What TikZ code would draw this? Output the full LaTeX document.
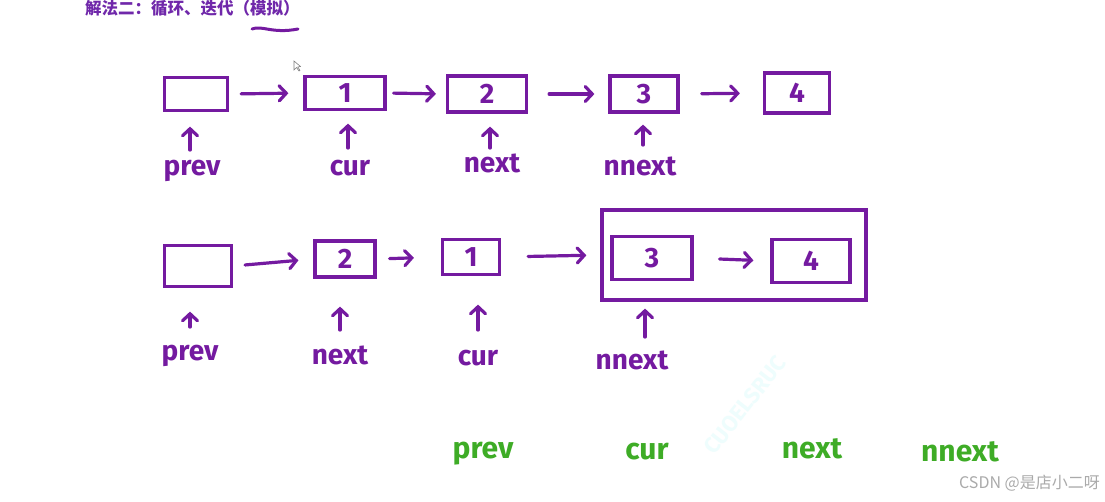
\documentclass[tikz,border=0pt]{standalone}
\usepackage{fontspec}
\setmainfont{Fira Sans}
\newfontfamily\cjk{Noto Sans CJK SC}
\usetikzlibrary{arrows.meta}
\definecolor{ink}{RGB}{116,26,160}
\definecolor{tink}{RGB}{112,40,170}
\definecolor{gink}{RGB}{62,172,38}
\definecolor{wm}{RGB}{170,170,170}
\definecolor{wmc}{RGB}{238,253,253}
\tikzset{
  boxnode/.style={draw=ink,line width=3.2pt,inner sep=0pt,text=ink,font=\bfseries\fontsize{28}{28}\selectfont},
  lab/.style={text=ink,inner sep=0pt,anchor=base,font=\bfseries\fontsize{28}{28}\selectfont},
  glab/.style={text=gink,inner sep=0pt,anchor=base,font=\bfseries\fontsize{30}{30}\selectfont},
  link/.style={draw=ink,line width=3.2pt,line cap=round,-{Straight Barb[length=7pt,width=15pt,line cap=round]}},
}
\begin{document}
\begin{tikzpicture}[x=1pt,y=-1pt]
\useasboundingbox[fill=white] (0,0) rectangle (1105,501);
% title
\node[anchor=base west,inner sep=0pt,text=tink,font=\cjk\bfseries\fontsize{16.5}{16.5}\selectfont] (title) at (85,14) {解法二：循环、迭代（模拟）};
\draw[ink,line width=3pt,line cap=round] (252,29) .. controls (262,25) and (272,34) .. (298,29);
% cursor
\draw[gray,fill=white,line width=0.6pt] (294,61) -- (294,70) -- (296.5,67.5) -- (299,71) -- (300,70.3) -- (297.8,67) -- (300.5,66.5) -- cycle;
% watermark
\node[rotate=52,text=wmc,font=\bfseries\fontsize{22}{22}\selectfont] (wmark) at (745,405) {CUOELSRUC};
\node[anchor=base east,inner sep=0pt,text=wm,font=\cjk\fontsize{16}{16}\selectfont] (csdn) at (1100,488) {CSDN @是店小二呀};

% row 1
\node[boxnode,minimum width=63pt,minimum height=33pt] (b0) at (196,94) {};
\node[boxnode,minimum width=80pt,minimum height=33pt] (b1) at (345,93) {1};
\node[boxnode,minimum width=79pt,minimum height=36pt] (b2) at (487,94) {2};
\node[boxnode,minimum width=68pt,minimum height=36pt] (b3) at (644,94) {3};
\node[boxnode,minimum width=65pt,minimum height=40pt] (b4) at (797,93) {4};
\draw[link,shorten <=12pt,shorten >=15pt] (b0.east) -- (b1.west);
\draw[link,shorten <=7pt,shorten >=10pt] (b1.east) -- (b2.west);
\draw[link,shorten <=21pt,shorten >=14pt] (b2.east) -- (b3.west);
\draw[link,shorten <=22pt,shorten >=23pt] (b3.east) -- (b4.west);
\coordinate (p0) at (190,150);
\coordinate (p1) at (348,148);
\coordinate (p2) at (490,148);
\coordinate (p3) at (643,145);
\draw[link,shorten >=14.5pt] (p0) -- (p0 |- b0.south);
\draw[link,shorten >=12.5pt] (p1) -- (p1 |- b1.south);
\draw[link,shorten >=13pt] (p2) -- (p2 |- b2.south);
\draw[link,shorten >=11pt] (p3) -- (p3 |- b3.south);
\node[lab] (l0) at (192,175) {prev};
\node[lab] (l1) at (350,175) {cur};
\node[lab] (l2) at (492,172) {next};
\node[lab] (l3) at (640,175) {nnext};

% row 2
\node[boxnode,minimum width=67pt,minimum height=41pt] (c0) at (198,266) {};
\node[boxnode,minimum width=60pt,minimum height=36pt] (c2) at (345,259) {2};
\node[boxnode,minimum width=57pt,minimum height=35pt] (c1) at (471,257) {1};
\node[boxnode,minimum width=264pt,minimum height=90pt] (big) at (734,255) {};
\node[boxnode,minimum width=80pt,minimum height=43pt] (c3) at (652,258) {3};
\node[boxnode,minimum width=78pt,minimum height=43pt] (c4) at (811,261) {4};
\draw[link,shorten <=12pt,shorten >=15pt] (c0.east) -- (c2.west);
\draw[link,shorten <=13pt,shorten >=27pt] (c2.east) -- (c1.west);
\draw[link,shorten <=27pt,shorten >=14pt] (c1.east) -- (big.west);
\draw[link,shorten <=26pt,shorten >=17pt] (c3.east) -- (c4.west);
\coordinate (q0) at (190,327);
\coordinate (q1) at (340,330);
\coordinate (q2) at (478,330);
\coordinate (q3) at (645,337);
\draw[link,shorten >=23.5pt] (q0) -- (q0 |- c0.south);
\draw[link,shorten >=28pt] (q1) -- (q1 |- c2.south);
\draw[link,shorten >=28.5pt] (q2) -- (q2 |- c1.south);
\draw[link,shorten >=7pt] (q3) -- (q3 |- big.south);
\node[lab] (m0) at (190,360) {prev};
\node[lab] (m1) at (340,364) {next};
\node[lab] (m2) at (478,365) {cur};
\node[lab] (m3) at (632,369) {nnext};

% green labels
\node[glab] (g0) at (483,458) {prev};
\node[glab] (g1) at (647,459) {cur};
\node[glab] (g2) at (812,458) {next};
\node[glab] (g3) at (960,461) {nnext};
\end{tikzpicture}
\end{document}
